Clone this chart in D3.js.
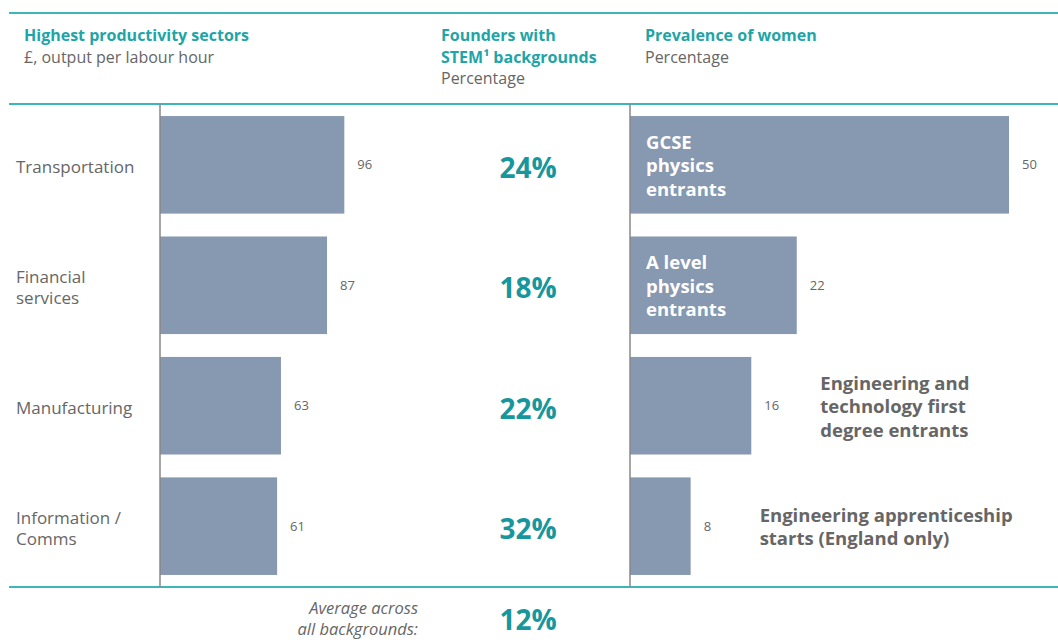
<!DOCTYPE html>
<html>
<head>
<meta charset="utf-8">
<script src="https://cdn.jsdelivr.net/npm/d3@7"></script>
<style>
  body { margin: 0; background: #fff; }
  text { font-family: "Open Sans", "Noto Sans", sans-serif; }
</style>
</head>
<body>
<svg id="canvas" width="1058" height="643"></svg>
<script>
// ---------------------------------------------------------------- //
// Data

var sectors = ['Transportation', 'Financial services', 'Manufacturing', 'Information / Comms'];
var sector_lines = [['Transportation'], ['Financial', 'services'], ['Manufacturing'], ['Information /', 'Comms']];
var output_per_hour = [96, 87, 63, 61];
var stem_share = [24, 18, 22, 32];
var stem_average = 12;
var women_groups = ['GCSE physics entrants', 'A level physics entrants', 'Engineering and technology first degree entrants', 'Engineering apprenticeship starts (England only)'];
var women_lines = [['GCSE', 'physics', 'entrants'], ['A level', 'physics', 'entrants'], ['Engineering and', 'technology first', 'degree entrants'], ['Engineering apprenticeship', 'starts (England only)']];
var women_share = [50, 22, 16, 8];
var label_inside = [true, true, false, false];

// ---------------------------------------------------------------- //
// Setup

var teal = '#1ea5a7', teal_dark = '#17979c', line_teal = '#3db6b8';
var bar_color = '#8798b1', grey = '#666666';

var svg = d3.select('#canvas');

var y = d3.scaleBand().domain(sectors).range([104, 587]).paddingInner(0.19).paddingOuter(0.1);
var y2 = d3.scaleBand().domain(women_groups).range([104, 587]).paddingInner(0.19).paddingOuter(0.1);
var x_left = d3.scaleLinear().domain([0, 100]).range([160, 352]);
var x_right = d3.scaleLinear().domain([0, 50]).range([630, 1009]);

// centred block of lines around cy
function multiline(sel, lines, x, cy, lh){
  var n = lines.length;
  lines.forEach(function(l, i){
    sel.append('tspan').attr('x', x).attr('y', cy + (i - (n-1)/2)*lh).attr('dy', '0.35em').text(l);
  });
}

// ---------------------------------------------------------------- //
// Rules and headers

[13, 104, 587].forEach(function(ly){
  svg.append('line').attr('x1', 9).attr('x2', 1058).attr('y1', ly).attr('y2', ly)
    .style('stroke', line_teal).style('stroke-width', 2);
});

var headers = [
  { x: 24, title: ['Highest productivity sectors'], sub: '£, output per labour hour' },
  { x: 441, title: ['Founders with', 'STEM¹ backgrounds'], sub: 'Percentage' },
  { x: 645, title: ['Prevalence of women'], sub: 'Percentage' }
];
headers.forEach(function(h){
  h.title.forEach(function(t, i){
    svg.append('text').attr('x', h.x).attr('y', 41 + i*21.5)
      .style('font-size', '16px').style('font-weight', 'bold').style('fill', teal).text(t);
  });
  svg.append('text').attr('x', h.x).attr('y', 41 + h.title.length*21.5)
    .style('font-size', '16px').style('fill', grey).text(h.sub);
});

// ---------------------------------------------------------------- //
// Left: productivity bars

svg.selectAll('.bar-left').data(sectors).enter().append('rect')
  .attr('x', x_left(0)).attr('y', function(d){ return y(d); })
  .attr('width', function(d, i){ return x_left(output_per_hour[i]) - x_left(0); })
  .attr('height', y.bandwidth()).style('fill', bar_color);

svg.selectAll('.val-left').data(sectors).enter().append('text')
  .attr('x', function(d, i){ return x_left(output_per_hour[i]) + 13; })
  .attr('y', function(d){ return y(d) + y.bandwidth()/2; })
  .attr('dy', '0.35em').style('font-size', '13px').style('fill', grey)
  .text(function(d, i){ return output_per_hour[i]; });

sectors.forEach(function(d, i){
  var t = svg.append('text').style('font-size', '17px').style('fill', grey);
  multiline(t, sector_lines[i], 16, y(d) + y.bandwidth()/2 + 2, 21);
});

svg.append('line').attr('x1', 160).attr('x2', 160).attr('y1', 104).attr('y2', 587)
  .style('stroke', '#888').style('stroke-width', 1.5);

// ---------------------------------------------------------------- //
// Middle: STEM founder share

svg.selectAll('.pct').data(sectors).enter().append('text')
  .attr('x', 528).attr('y', function(d){ return y(d) + y.bandwidth()/2 + 3; })
  .attr('dy', '0.35em').attr('text-anchor', 'middle')
  .style('font-size', '28px').style('font-weight', 'bold').style('fill', teal_dark)
  .text(function(d, i){ return stem_share[i] + '%'; });

svg.append('text').attr('x', 528).attr('y', 620).attr('dy', '0.35em').attr('text-anchor', 'middle')
  .style('font-size', '28px').style('font-weight', 'bold').style('fill', teal_dark)
  .text(stem_average + '%');

var avg = svg.append('text').attr('text-anchor', 'end')
  .style('font-size', '16.5px').style('font-style', 'italic').style('fill', grey);
multiline(avg, ['Average across', 'all backgrounds:'], 418, 619, 21);

// ---------------------------------------------------------------- //
// Right: prevalence of women

svg.selectAll('.bar-right').data(women_groups).enter().append('rect')
  .attr('x', x_right(0)).attr('y', function(d){ return y2(d); })
  .attr('width', function(d, i){ return x_right(women_share[i]) - x_right(0); })
  .attr('height', y2.bandwidth()).style('fill', bar_color);

svg.selectAll('.val-right').data(women_groups).enter().append('text')
  .attr('x', function(d, i){ return x_right(women_share[i]) + 13; })
  .attr('y', function(d){ return y2(d) + y2.bandwidth()/2; })
  .attr('dy', '0.35em').style('font-size', '13px').style('fill', grey)
  .text(function(d, i){ return women_share[i]; });

women_groups.forEach(function(d, i){
  var inside = label_inside[i];
  var lx = inside ? x_right(0) + 16 : x_right(women_share[i]) + 69;
  var t = svg.append('text')
    .style('font-size', '18.5px').style('font-weight', 'bold')
    .style('fill', inside ? '#ffffff' : grey);
  multiline(t, women_lines[i], lx, y2(d) + y2.bandwidth()/2 + 1, 23.5);
});

svg.append('line').attr('x1', 630).attr('x2', 630).attr('y1', 104).attr('y2', 587)
  .style('stroke', '#888').style('stroke-width', 1.5);
</script>
</body>
</html>
